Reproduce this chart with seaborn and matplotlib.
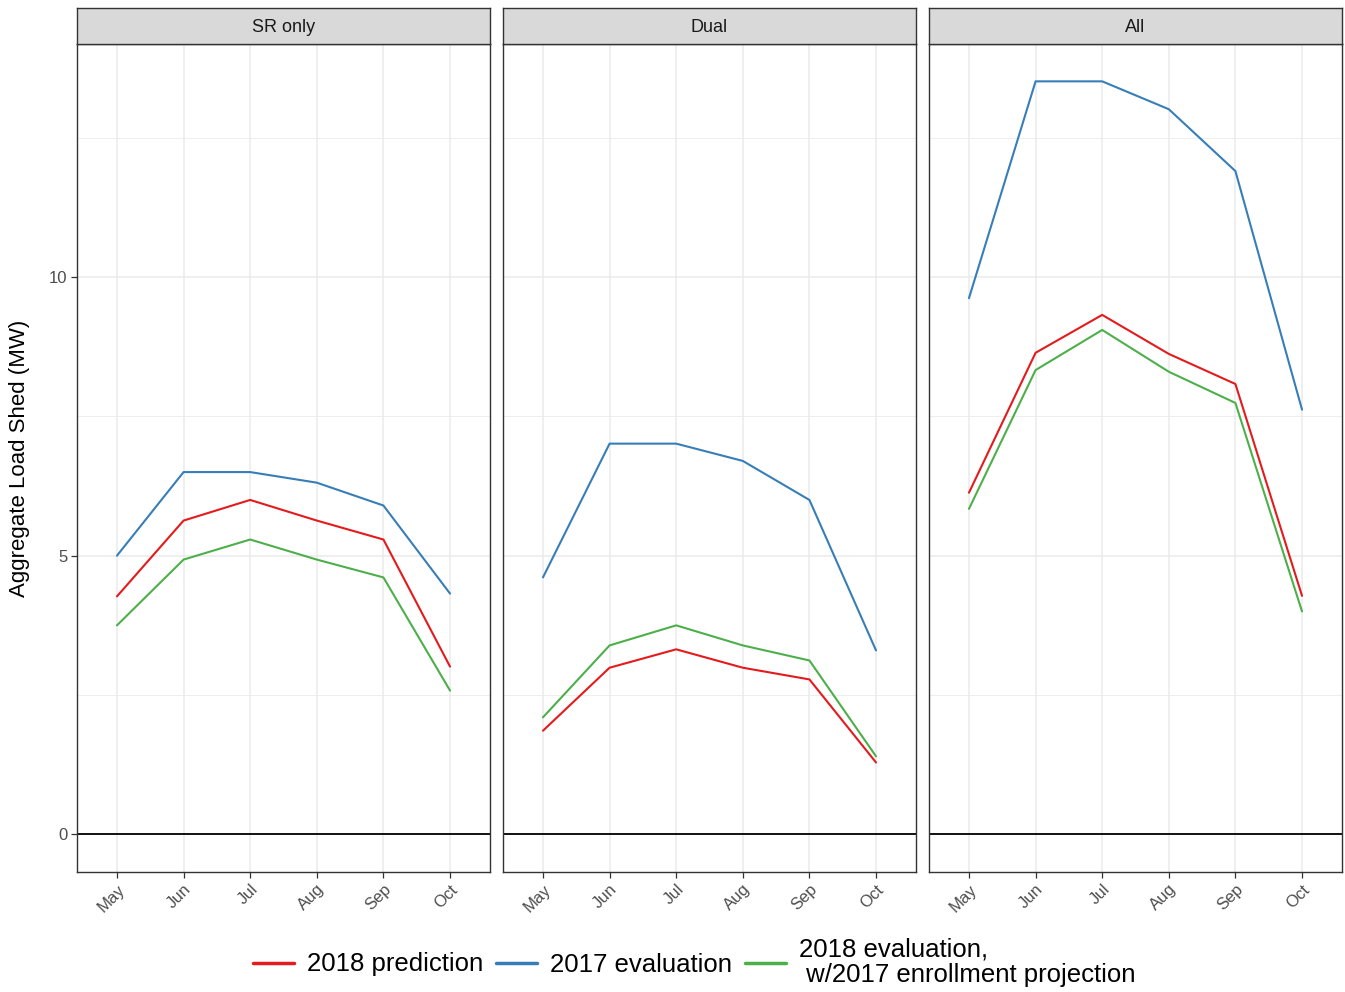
import matplotlib
matplotlib.use("Agg")
import matplotlib.pyplot as plt
import seaborn as sns
import pandas as pd

months = ["May", "Jun", "Jul", "Aug", "Sep", "Oct"]
panels = ["SR only", "Dual", "All"]
series = ["2018 prediction", "2017 evaluation", "2018 evaluation,\n w/2017 enrollment projection"]

sr_pred = [4.27, 5.63, 6.00, 5.63, 5.29, 3.01]
sr_eval17 = [5.00, 6.50, 6.50, 6.31, 5.90, 4.32]
sr_eval18 = [3.75, 4.93, 5.29, 4.93, 4.61, 2.58]

dual_pred = [1.86, 2.99, 3.32, 2.99, 2.78, 1.29]
dual_eval17 = [4.61, 7.01, 7.01, 6.70, 6.00, 3.30]
dual_eval18 = [2.10, 3.39, 3.75, 3.39, 3.12, 1.40]

all_pred = [6.13, 8.64, 9.32, 8.62, 8.08, 4.28]
all_eval17 = [9.62, 13.51, 13.51, 13.01, 11.90, 7.62]
all_eval18 = [5.84, 8.33, 9.05, 8.30, 7.74, 4.00]

colors = ["#E41A1C", "#377EB8", "#4DAF4A"]

rows = []
for panel, vals in zip(panels, [[sr_pred, sr_eval17, sr_eval18],
                                [dual_pred, dual_eval17, dual_eval18],
                                [all_pred, all_eval17, all_eval18]]):
    for s, v in zip(series, vals):
        for m, y in zip(months, v):
            rows.append({"panel": panel, "series": s, "month": m, "value": y})
df = pd.DataFrame(rows)

sns.set_theme(style="white")
plt.rcParams["font.family"] = ["Liberation Sans", "DejaVu Sans"]

W, H = 1345, 992
fig = plt.figure(figsize=(W / 100, H / 100), dpi=100)

lefts = [77, 503, 929]
pw = 413
ptop, pbot = 44, 872
stop = 8
border = "#333333"

axes = []
for i, (panel, lx) in enumerate(zip(panels, lefts)):
    ax = fig.add_axes([lx / W, 1 - pbot / H, pw / W, (pbot - ptop) / H])
    sub = df[df["panel"] == panel]
    sns.lineplot(data=sub, x="month", y="value", hue="series", hue_order=series,
                 palette=colors, ax=ax, linewidth=1.5, legend=(i == 0), sort=False)
    ax.axhline(0, color="black", linewidth=1.3, zorder=1)
    ax.set_xlim(-0.6, 5.6)
    ax.set_ylim(-0.675, 14.18)
    ax.set_yticks([0, 5, 10])
    ax.set_yticks([2.5, 7.5, 12.5], minor=True)
    ax.grid(True, which="major", color="#EBEBEB", linewidth=1.1, zorder=0)
    ax.grid(True, which="minor", axis="y", color="#EBEBEB", linewidth=0.6, zorder=0)
    ax.set_axisbelow(True)
    for sp in ax.spines.values():
        sp.set_color(border)
        sp.set_linewidth(1.0)
    ax.set_xlabel("")
    ax.set_xticks(range(len(months)))
    ax.set_xticklabels(months, rotation=45, ha="right", rotation_mode="anchor",
                       fontsize=12, color="#4D4D4D")
    ax.tick_params(axis="x", which="major", length=4, width=0.9, color=border, bottom=True, pad=3)
    ax.tick_params(axis="y", which="minor", length=0)
    ax.set_ylabel("")
    if i == 0:
        ax.tick_params(axis="y", which="major", length=4, width=0.9, color=border, left=True,
                       labelsize=12, labelcolor="#4D4D4D", pad=3)
    else:
        ax.set_yticklabels([])
        ax.tick_params(axis="y", which="major", length=0, left=False)
    # strip
    sax = fig.add_axes([lx / W, 1 - ptop / H, pw / W, (ptop - stop) / H])
    sax.set_facecolor("#D9D9D9")
    sax.set_xticks([])
    sax.set_yticks([])
    for sp in sax.spines.values():
        sp.set_color(border)
        sp.set_linewidth(1.0)
    sax.text(0.5, 0.47, panel, ha="center", va="center", fontsize=13, color="#1A1A1A",
             transform=sax.transAxes)
    axes.append(ax)

fig.text(20 / W, 1 - 458 / H, "Aggregate Load Shed (MW)", rotation=90, ha="center",
         va="center", fontsize=16, color="black")

handles, labels = axes[0].get_legend_handles_labels()
axes[0].get_legend().remove()
leg = fig.legend(handles, labels, loc="center", bbox_to_anchor=(694 / W, 1 - 962 / H), ncol=3,
                 frameon=False, fontsize=18.5, handlelength=1.6, handletextpad=0.5,
                 columnspacing=0.5)
for h in leg.legend_handles:
    h.set_linewidth(2.5)
for t in leg.get_texts():
    t.set_linespacing(1.1)
    t.set_color("black")

fig.savefig("out.png", dpi=100)
